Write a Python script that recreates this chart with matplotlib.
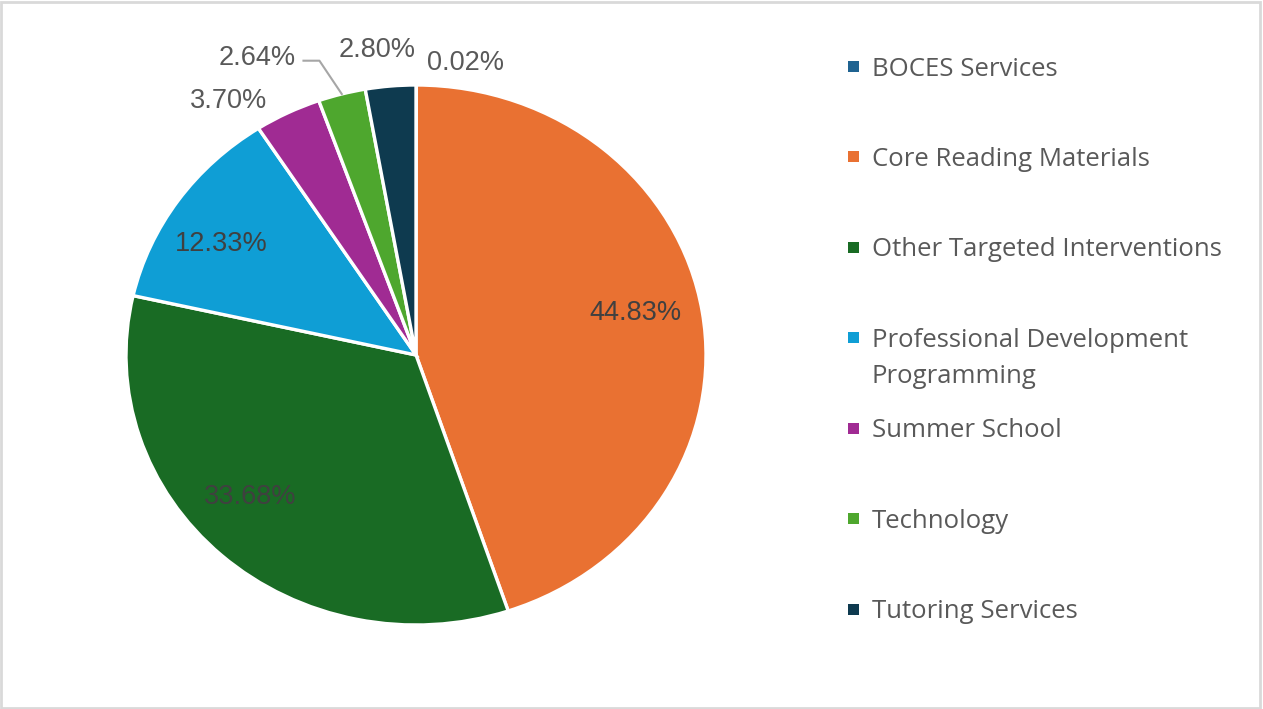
import numpy as np
import matplotlib
matplotlib.use("Agg")
import matplotlib.pyplot as plt
from matplotlib.patches import Rectangle

# data
categories = ["BOCES Services", "Core Reading Materials", "Other Targeted Interventions",
              "Professional Development\nProgramming", "Summer School", "Technology",
              "Tutoring Services"]
shares = [0.02, 44.83, 33.68, 12.33, 3.70, 2.64, 2.80]
colors = ["#1F6391", "#E97132", "#196B24", "#0F9ED5", "#A02B93", "#4EA72E", "#0E3A4F"]

# where the data labels sit (pie units, as in the chart)
inside = [False, True, True, True, False, False, False]
label_xy = [(0.17, 1.08), (0.755, 0.155), (-0.572, -0.526), (-0.672, 0.411),
            (-0.645, 0.94), (-0.548, 1.10), (-0.135, 1.13)]

W, H = 1263, 709
fig = plt.figure(figsize=(W / 100, H / 100), dpi=100)
fig.patch.set_facecolor("white")

# thin grey frame round the chart area
fig.add_artist(Rectangle((0.001, 0.002), 0.997, 0.995, transform=fig.transFigure,
                         fill=False, edgecolor="#D9D9D9", linewidth=2))

ax = fig.add_axes([126 / W, (H - 625) / H, 580 / W, 540 / H])
wedges, _ = ax.pie(shares, colors=colors, startangle=90, counterclock=False,
                   wedgeprops=dict(edgecolor="white", linewidth=2.4))
ax.set_aspect("auto")
ax.set_xlim(-1, 1)
ax.set_ylim(-1, 1)
ax.axis("off")

lab_font = dict(family="Liberation Sans", fontsize=19.5)
for i, w in enumerate(wedges):
    x, y = label_xy[i]
    col = "#404040" if inside[i] else "#595959"
    ax.text(x, y, "{:.2f}%".format(shares[i]), ha="center", va="center",
            color=col, clip_on=False, **lab_font)

# leader line for the Technology label
i = 5
mid = np.deg2rad((wedges[i].theta1 + wedges[i].theta2) / 2)
lx, ly = label_xy[i]
ax.plot([lx + 0.16, lx + 0.215, np.cos(mid)], [ly - 0.01, ly - 0.01, np.sin(mid)],
        color="#A6A6A6", linewidth=1.5, clip_on=False)

# legend drawn by hand so the two-line entry keeps the even spacing
leg_font = dict(family="Open Sans", fontsize=18.5)
y0, step, line_h = 66, 90.5, 36
for k, (name, c) in enumerate(zip(categories, colors)):
    yc = y0 + k * step
    fig.add_artist(Rectangle((848 / W, 1 - (yc + 5.5) / H), 11 / W, 11 / H,
                             transform=fig.transFigure, facecolor=c, edgecolor="none"))
    for j, line in enumerate(name.split("\n")):
        fig.text(872 / W, 1 - (yc + j * line_h) / H, line, ha="left",
                 va="center_baseline", color="#595959", **leg_font)

fig.savefig("out.png", dpi=100)
